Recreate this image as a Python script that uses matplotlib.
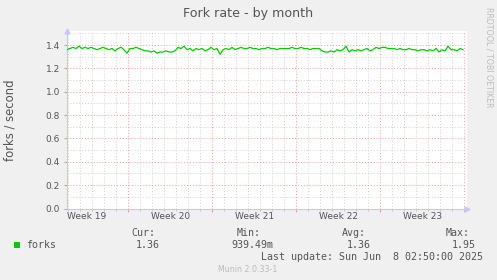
import numpy as np
import matplotlib
matplotlib.use("Agg")
import matplotlib.pyplot as plt
from matplotlib.patches import Rectangle
from matplotlib.ticker import MultipleLocator, FixedLocator

# fork rate samples, one every 6 hours
forks = [
    1.36, 1.37, 1.38, 1.37, 1.39, 1.37, 1.38, 1.37, 1.38, 1.37, 1.36, 1.37, 1.38,
    1.37, 1.36, 1.37, 1.35, 1.37, 1.38, 1.36, 1.33, 1.37, 1.37, 1.38, 1.37,
    1.36, 1.35, 1.35, 1.34, 1.35, 1.33, 1.34, 1.34, 1.35, 1.34, 1.34, 1.35,
    1.38, 1.37, 1.39, 1.36, 1.37, 1.35, 1.37, 1.36, 1.37, 1.35, 1.36, 1.38,
    1.36, 1.37, 1.32, 1.36, 1.37, 1.36, 1.38, 1.36, 1.37, 1.38, 1.37,
    1.37, 1.38, 1.37, 1.37, 1.36, 1.37, 1.37, 1.38, 1.37, 1.37, 1.36, 1.37, 1.37,
    1.37, 1.37, 1.38, 1.37, 1.37, 1.38, 1.37, 1.37, 1.36, 1.37, 1.37, 1.37,
    1.35, 1.34, 1.34, 1.35, 1.34, 1.36, 1.35, 1.36, 1.39, 1.34, 1.36, 1.35,
    1.36, 1.35, 1.36, 1.37, 1.35, 1.36,
    1.38, 1.37, 1.38, 1.38, 1.37, 1.37, 1.37, 1.36, 1.37, 1.36, 1.36, 1.37,
    1.36, 1.36, 1.35, 1.36, 1.36, 1.35, 1.36, 1.35,
    1.37, 1.34, 1.36, 1.35, 1.39, 1.36, 1.36, 1.35, 1.37, 1.36,
]
sample_step = 0.25  # days

week_labels = ["Week 19", "Week 20", "Week 21", "Week 22", "Week 23"]
first_week_start = 5.11  # days from left edge
span_days = 33.33

legend_heads = ["Cur:", "Min:", "Avg:", "Max:"]
legend_values = ["1.36", "939.49m", "1.36", "1.95"]
last_update = "Last update: Sun Jun  8 02:50:00 2025"

W, H = 497, 280
txt = "#555555"
mono = "DejaVu Sans Mono"

fig = plt.figure(figsize=(W / 100, H / 100), dpi=100, facecolor="#F0F0F0")
ax = fig.add_axes([67 / W, 71.5 / H, 400 / W, 177.5 / H], facecolor="white")

t = np.arange(len(forks)) * sample_step
ax.plot(t, forks, color="#00CC00", lw=0.9, zorder=3)

ax.set_xlim(0, span_days)
ax.set_ylim(0, 1.52)

# grid: days gray, weeks red
week_starts = [first_week_start + 7 * k for k in range(len(week_labels))]
days = [first_week_start - 5 + k for k in range(34)]
ax.xaxis.set_major_locator(FixedLocator(week_starts))
ax.xaxis.set_minor_locator(FixedLocator(days))
ax.yaxis.set_major_locator(MultipleLocator(0.2))
ax.yaxis.set_minor_locator(MultipleLocator(0.1))
ax.grid(which="minor", color="#CFCFCF", ls=(0, (1, 2)), lw=0.7, zorder=0)
ax.grid(which="major", color="#F29A9A", ls=(0, (1, 2)), lw=0.7, zorder=1)

ax.set_xticklabels([])
ax.set_yticklabels([f"{v:.1f}" for v in ax.get_yticks()])
ax.tick_params(axis="y", which="major", length=2, color="#AAAAAA", pad=3,
               labelsize=6.5, labelcolor=txt)
ax.tick_params(axis="y", which="minor", length=0)
ax.tick_params(axis="x", which="major", length=2, color="#F29A9A", direction="out")
ax.tick_params(axis="x", which="minor", length=1.5, color="#BBBBBB", direction="out")

for s in ["top", "right"]:
    ax.spines[s].set_visible(False)
for s in ["left", "bottom"]:
    ax.spines[s].set_color("#C8C8F0")
    ax.spines[s].set_linewidth(0.8)
ax.plot([0], [1.0], marker="^", ms=3.5, color="#C8C8F0", transform=ax.transAxes, clip_on=False)
ax.plot([1.0], [0], marker=">", ms=3.5, color="#C8C8F0", transform=ax.transAxes, clip_on=False)

for k, lab in enumerate(week_labels):
    ax.text(week_starts[k] - 3.5, -0.045, lab, transform=ax.get_xaxis_transform(),
            ha="center", va="center", fontsize=6.5, color=txt)


def fx(x):
    return x / W


def fy(y):
    return 1 - y / H


fig.text(fx(10), fy(120), "forks / second", rotation=90, ha="center", va="center",
         fontsize=8.4, color=txt)
fig.text(fx(248), fy(14), "Fork rate - by month", ha="center", va="center",
         fontsize=9.1, color=txt)
fig.text(fx(489), fy(57), "RRDTOOL / TOBI OETIKER", rotation=270, ha="center",
         va="center", fontsize=5.7, color="#BDBDBD")

fig.patches.append(Rectangle((fx(14), fy(248)), 6 / W, 6 / H, transform=fig.transFigure,
                             facecolor="#00CC00", edgecolor="none"))
fig.text(fx(26), fy(245), "forks", ha="left", va="center", family=mono, fontsize=7.2, color=txt)

head_x = [131, 237, 342, 446]
val_x = [136, 231, 347, 452]
for hx, vx, h, v in zip(head_x, val_x, legend_heads, legend_values):
    fig.text(fx(hx), fy(233), h, ha="left", va="center", family=mono, fontsize=7.2, color=txt)
    fig.text(fx(vx), fy(245), v, ha="left", va="center", family=mono, fontsize=7.2, color=txt)

fig.text(fx(261), fy(257), last_update, ha="left", va="center", family=mono,
         fontsize=7.2, color=txt)
fig.text(fx(218), fy(269.5), "Munin 2.0.33-1", ha="left", va="center",
         fontsize=5.7, color="#BBBBBB")

fig.savefig("out.png", dpi=100, facecolor=fig.get_facecolor())
